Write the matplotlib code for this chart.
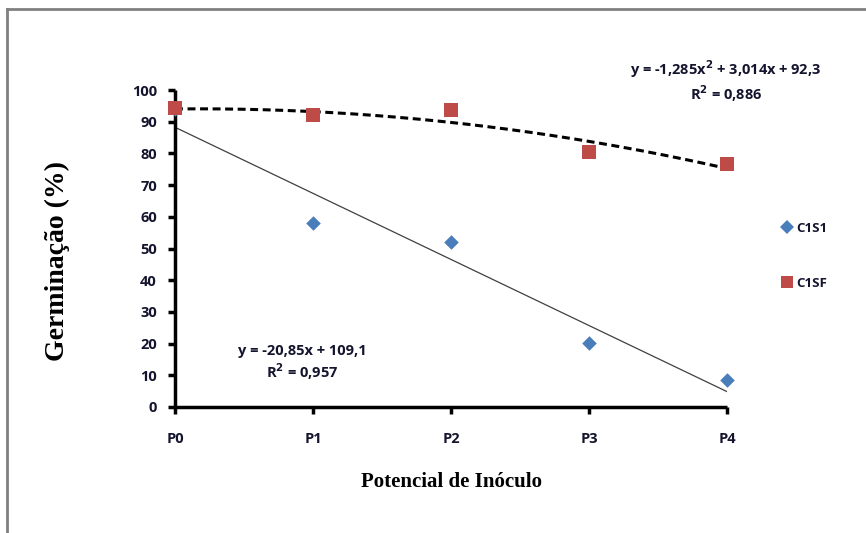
import numpy as np
import matplotlib.pyplot as plt
from matplotlib.lines import Line2D

categorias = ['P0', 'P1', 'P2', 'P3', 'P4']
x = np.arange(1, 6)

c1s1 = [94.0, 58.0, 52.0, 20.3, 8.4]
c1sf = [94.2, 92.0, 93.8, 80.3, 76.8]

# coeficientes das linhas de tendência
lin_coef = [-20.85, 109.1]
pol_coef = [-1.285, 3.014, 92.3]

fig = plt.figure(figsize=(8.66, 5.33), dpi=100)
ax = fig.add_axes([0.2021, 0.2364, 0.8395 - 0.2021, 0.8311 - 0.2364])

xx = np.linspace(1, 5, 200)
ax.plot(xx, np.polyval(pol_coef, xx), color='black', lw=2.2,
        dashes=(2.6, 1.5), zorder=2)
ax.plot(xx, np.polyval(lin_coef, xx), color='#404040', lw=0.9, zorder=2)

ax.scatter(x, c1s1, marker='D', s=55, color='#4a7ebb', zorder=3,
           linewidths=0, clip_on=False)
ax.scatter(x, c1sf, marker='s', s=110, color='#be4b48', zorder=4,
           linewidths=0, clip_on=False)

ax.set_xlim(1, 5)
ax.set_ylim(0, 100)
ax.set_xticks(x)
ax.set_xticklabels(categorias)
ax.set_yticks(range(0, 101, 10))

for s in ['top', 'right']:
    ax.spines[s].set_visible(False)
for s in ['left', 'bottom']:
    ax.spines[s].set_linewidth(2.5)
    ax.spines[s].set_capstyle('butt')

ax.tick_params(direction='out', length=5, width=2.5, color='black',
               labelsize=10.5, pad=8, labelcolor='#14142e')
ax.tick_params(axis='x', pad=13)
for lab in ax.get_xticklabels() + ax.get_yticklabels():
    lab.set_fontweight('bold')
    lab.set_fontfamily('Open Sans')

ax.set_ylabel('Germinação (%)', family='Liberation Serif', weight='bold',
              fontsize=20)
ax.yaxis.set_label_coords(-0.19, 0.46)
ax.set_xlabel('Potencial de Inóculo', family='Liberation Serif',
              weight='bold', fontsize=15, labelpad=19)

# equações das tendências
eq_kw = dict(family='Open Sans', weight='bold', fontsize=10.5, ha='center',
             transform=fig.transFigure, linespacing=1.2, color='#14142e')
fig.text(726 / 866, 1 - 81 / 533,
         'y = -1,285x$^{\\mathbf{2}}$ + 3,014x + 92,3\nR$^{\\mathbf{2}}$ = 0,886',
         va='center', **eq_kw)
fig.text(302 / 866, 1 - 363 / 533,
         'y = -20,85x + 109,1\nR$^{\\mathbf{2}}$ = 0,957',
         va='center', **eq_kw)

# legenda
leg = fig.legend(handles=[
    Line2D([], [], marker='D', ls='none', color='#4a7ebb', markersize=7,
           markeredgewidth=0, label='C1S1'),
    Line2D([], [], marker='s', ls='none', color='#be4b48', markersize=9,
           markeredgewidth=0, label='C1SF')],
    loc='center left', bbox_to_anchor=(767 / 866, 1 - 256 / 533),
    frameon=False, labelspacing=3.2, handletextpad=0.1, handlelength=1.2,
    prop={'family': 'Open Sans', 'weight': 'bold', 'size': 9.5})
for t in leg.get_texts():
    t.set_color('#14142e')

# moldura do gráfico
fig.add_artist(Line2D([7 / 866, 1], [1 - 9 / 533, 1 - 9 / 533],
                      transform=fig.transFigure, color='#808080', lw=2))
fig.add_artist(Line2D([7 / 866, 7 / 866], [0, 1 - 9 / 533],
                      transform=fig.transFigure, color='#808080', lw=2))

fig.savefig('out.png', dpi=100)
